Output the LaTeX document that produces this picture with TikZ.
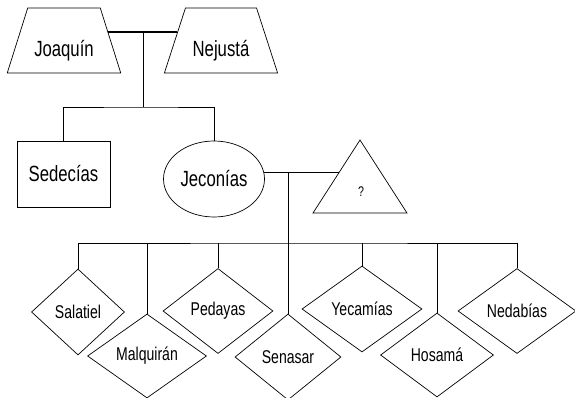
\documentclass[tikz,border=0pt]{standalone}
\usepackage{fontspec}
\newfontfamily\narrowsans[FakeStretch=0.76]{Liberation Sans}
\usetikzlibrary{calc,shapes.geometric}

\begin{document}
\begin{tikzpicture}[x=1pt,y=-1pt]
 \tikzstyle{line} = [draw=black,line width=0.7pt];
 \tikzstyle{wed} = [draw=black,line width=1.2pt];
 \tikzstyle{big} = [font=\narrowsans\fontsize{22}{24}\selectfont];
 \tikzstyle{small} = [font=\narrowsans\fontsize{18.5}{20}\selectfont];
 \tikzstyle{parent} = [trapezium,line,big,trapezium stretches=true,trapezium left angle=65,trapezium right angle=65,minimum width=114pt,minimum height=65pt,inner sep=0pt,text height=34pt,text depth=2pt];
 \tikzstyle{son} = [rectangle,line,big,minimum width=93pt,minimum height=66pt];
 \tikzstyle{heir} = [ellipse,line,big,inner sep=0pt,minimum width=101pt,minimum height=76pt];
 \tikzstyle{child} = [diamond,line,small,inner sep=1pt];

 \useasboundingbox (0,0) rectangle (575,398);

 % parents
 \node[parent,name=joa] at (64,40.5)    {Joaquín};
 \node[parent,name=nej] at (221,40.5)   {Nejustá};
 \coordinate (m1) at (143,32);
 \coordinate (m2) at (143,107);

 % sons
 \node[son,name=sed]  at (63.5,174) {Sedecías};
 \node[heir,name=jec] at (214,179)  {Jeconías};

 % unknown wife
 \node[font=\narrowsans\fontsize{14}{16}\selectfont,name=unk] at (361,192) {?};
 \coordinate (qtop) at (360,140);
 \coordinate (qbl)  at (313,213);
 \coordinate (qbr)  at (407,213);
 \coordinate (qside) at ($(qbl)!0.56!(qtop)$);
 \draw[line] (qtop) -- (qbr) -- (qbl) -- cycle;

 % grandchildren
 \node[child,name=sal,minimum width=93pt,minimum height=86pt]  at (78,312)  {Salatiel};
 \node[child,name=mal,minimum width=119pt,minimum height=84pt] at (147,356) {Malquirán};
 \node[child,name=ped,minimum width=110pt,minimum height=85pt] at (218,311) {Pedayas};
 \node[child,name=sen,minimum width=106pt,minimum height=86pt] at (288,357) {Senasar};
 \node[child,name=yec,minimum width=120pt,minimum height=86pt] at (362,309) {Yecamías};
 \node[child,name=hos,minimum width=113pt,minimum height=84pt] at (437,355) {Hosamá};
 \node[child,name=ned,minimum width=118pt,minimum height=85pt] at (517,311) {Nedabías};
 \coordinate (kids) at (300,243);

 \draw[wed] ($(joa.top right corner)!0.37!(joa.bottom right corner)$)
   -- ($(nej.top left corner)!0.37!(nej.bottom left corner)$);
 \draw[line] (m1) -- (m2);
 \draw[line] (sed.north) |- (m2) -| (jec.north);
 \draw[line] (jec.8) -- (jec.8 -| qside);
 \draw[line] (jec.8 -| sen.north) -- (sen.north);
 \draw[line] (sal.north) |- (kids) -| (ned.north);
 \foreach \k in {mal,ped,yec,hos}
  \draw[line] (\k.north) -- (\k.north |- kids);
\end{tikzpicture}
\end{document}
